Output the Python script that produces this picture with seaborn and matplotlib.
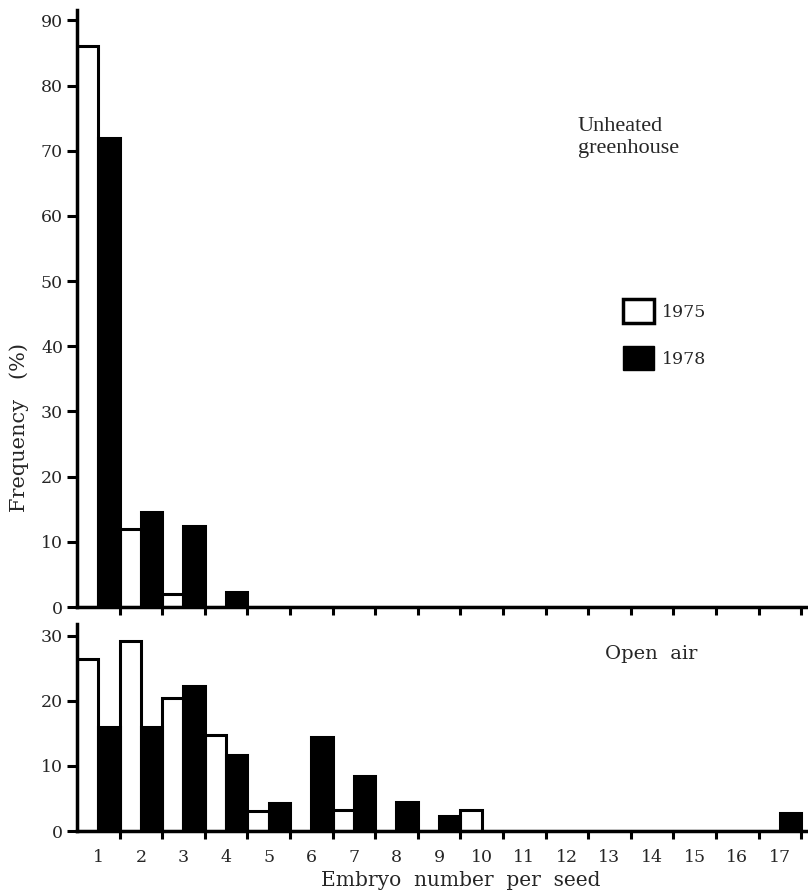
import matplotlib
matplotlib.use("Agg")
import matplotlib.pyplot as plt
from matplotlib.patches import Patch
import seaborn as sns
import pandas as pd

embryo = [str(i) for i in range(1, 18)]
greenhouse_1975 = [86, 12, 2, 0, 0, 0, 0, 0, 0, 0, 0, 0, 0, 0, 0, 0, 0]
greenhouse_1978 = [72, 14.5, 12.5, 2.3, 0, 0, 0, 0, 0, 0, 0, 0, 0, 0, 0, 0, 0]
openair_1975 = [26.4, 29.2, 20.5, 14.8, 3.0, 0, 3.2, 0, 0, 3.2, 0, 0, 0, 0, 0, 0, 0]
openair_1978 = [16, 16, 22.2, 11.6, 4.3, 14.4, 8.4, 4.5, 2.3, 0, 0, 0, 0, 0, 0, 0, 2.7]
years = ["1975", "1978"]

sns.set_style("white")
plt.rcParams["font.family"] = ["DejaVu Serif", "Liberation Serif"]

def make_df(v75, v78):
    return pd.DataFrame({
        "embryo": embryo * 2,
        "freq": v75 + v78,
        "year": [years[0]] * len(embryo) + [years[1]] * len(embryo),
    })

W, H = 808, 891
fig = plt.figure(figsize=(W / 100, H / 100), dpi=100)
ax1 = fig.add_axes([77 / W, 1 - 607 / H, (808 - 77) / W, (607 - 10) / H])
ax2 = fig.add_axes([77 / W, 1 - 831 / H, (808 - 77) / W, (831 - 624) / H])

pal = {"1975": "white", "1978": "black"}
for ax, v75, v78, ymax, yt in [
    (ax1, greenhouse_1975, greenhouse_1978, 91.6, range(0, 91, 10)),
    (ax2, openair_1975, openair_1978, 31.8, range(0, 31, 10)),
]:
    sns.barplot(data=make_df(v75, v78), x="embryo", y="freq", hue="year",
                order=embryo, hue_order=years, palette=pal, edgecolor="black",
                linewidth=2.2, width=1.0, ax=ax, legend=False)
    ax.set_xlim(-0.5, 16.66)
    ax.set_ylim(0, ymax)
    ax.set_yticks(list(yt))
    ax.set_xlabel("")
    ax.set_ylabel("")
    for s in ["top", "right"]:
        ax.spines[s].set_visible(False)
    for s in ["left", "bottom"]:
        ax.spines[s].set_linewidth(2.5)
        ax.spines[s].set_color("black")
    ax.set_xticks([i + 0.5 for i in range(17)])
    ax.set_xticklabels([])
    ax.set_xticks(range(17), minor=True)
    ax.tick_params(axis="x", which="major", direction="out", length=6, width=2.2,
                   color="black", bottom=True)
    ax.tick_params(axis="x", which="minor", length=0, labelsize=12.5, pad=13,
                   bottom=True)
    ax.tick_params(axis="y", direction="out", length=7, width=2.2, color="black",
                   labelsize=12.5, pad=3, left=True)

ax1.set_xticklabels([], minor=True)
ax2.set_xticklabels(embryo, minor=True)

fig.text(19 / W, 1 - 428 / H, "Frequency   (%)", rotation=90, ha="center",
         va="center", fontsize=15)
fig.text(461 / W, 1 - 880 / H, "Embryo  number  per  seed", ha="center",
         va="center", fontsize=14.5)
fig.text(578 / W, 1 - 117 / H, "Unheated\ngreenhouse", ha="left", va="top",
         fontsize=16, linespacing=1.25, family=["Liberation Serif", "DejaVu Serif"])
fig.text(605 / W, 1 - 654 / H, "Open  air", ha="left", va="center", fontsize=14)

handles = [Patch(facecolor="white", edgecolor="black", linewidth=2.5, label="1975"),
           Patch(facecolor="black", edgecolor="black", label="1978")]
fig.legend(handles=handles, loc="upper left",
           bbox_to_anchor=(623 / W, 1 - 299 / H), bbox_transform=fig.transFigure,
           frameon=False, fontsize=12.5, handlelength=1.8, handleheight=1.75,
           handletextpad=0.45, labelspacing=1.35, borderpad=0, borderaxespad=0)

fig.savefig("out.png", dpi=100)
